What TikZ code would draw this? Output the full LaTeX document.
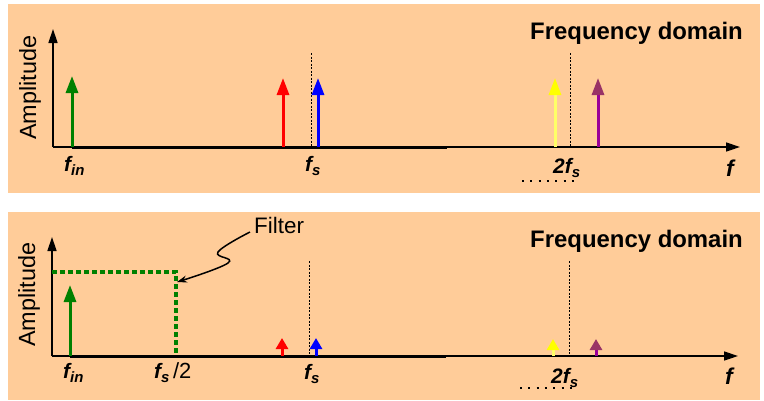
\documentclass[tikz,border=0pt]{standalone}
\usepackage{fontspec}
\setmainfont{Liberation Sans}
\usetikzlibrary{arrows.meta}
\definecolor{peach}{HTML}{FFCC99}
\definecolor{sgreen}{HTML}{008000}
\definecolor{sred}{HTML}{FF0000}
\definecolor{sblue}{HTML}{0000FF}
\definecolor{syellowh}{HTML}{FFFF00}
\definecolor{syellow}{HTML}{FFFF66}
\definecolor{spurpleh}{HTML}{993366}
\definecolor{spurple}{HTML}{990099}
\newcommand{\lbl}[2]{{\fontsize{21}{21}\selectfont\bfseries\itshape #1\raisebox{-4.5bp}{\fontsize{15}{15}\selectfont #2}}}
\tikzset{
  axis/.style={line width=1.5bp, -{Triangle[length=14bp,width=9bp]}},
  thickline/.style={line width=3bp},
  bigsig/.style={line width=3bp, -{Triangle[length=17bp,width=12bp,color=#1]}},
  smallsig/.style={line width=3bp, -{Triangle[length=11bp,width=12bp,color=#1]}},
  vguide/.style={line width=0.9bp, dash pattern=on 2bp off 1.5bp},
  filterline/.style={sgreen, line width=4bp, dash pattern=on 4.5bp off 3.5bp},
  title/.style={font=\fontsize{24}{24}\selectfont\bfseries, anchor=base east, inner sep=0},
  ylab/.style={font=\fontsize{23.5}{24}\selectfont, rotate=90, anchor=base west, inner sep=0},
  flab/.style={anchor=base west, inner sep=0},
  fbig/.style={anchor=base west, inner sep=0, font=\fontsize{23}{23}\selectfont\bfseries\itshape},
  dotrow/.style={line width=2bp, dash pattern=on 2bp off 6.3bp},
}
\begin{document}
\begin{tikzpicture}[x=1bp,y=-1bp]
\useasboundingbox (0,0) rectangle (764,400);
\fill[peach] (8,4) rectangle (760,193);
\fill[peach] (8,212) rectangle (760,400);

% ---------- panel 1 ----------
\coordinate (o1) at (53,147);
\coordinate (yt1) at (53,29);
\coordinate (xt1) at (740,147);
\draw[axis] (o1) -- (yt1);
\draw[axis] (o1) -- (xt1);
\draw[thickline] (72,147) -- (447,147);
\draw[vguide] (311,53) -- (311,147);
\draw[vguide] (570,53) -- (570,147);
\draw[sgreen, bigsig=sgreen] (72,147) -- (72,76);
\draw[sred, bigsig=sred] (283,147) -- (283,78);
\draw[sblue, bigsig=sblue] (318,147) -- (318,78);
\draw[syellow, bigsig=syellowh] (555,147) -- (555,78);
\draw[spurple, bigsig=spurpleh] (598,147) -- (598,78);
\node[title] (t1) at (743,39) {Frequency domain};
\node[ylab] (a1) at (36,140) {Amplitude};
\node[flab] (fin1) at (64,171) {\lbl{f}{in}};
\node[flab] (fs1) at (305,171) {\lbl{f}{s}};
\node[flab] (tfs1) at (553,173) {\lbl{2f}{s}};
\node[fbig] (f1) at (726,176) {f};
\draw[dotrow] (522,181) -- (575,181);

% ---------- panel 2 ----------
\coordinate (o2) at (52,356);
\coordinate (yt2) at (52,237);
\coordinate (xt2) at (738,356);
\draw[axis] (o2) -- (yt2);
\draw[axis] (o2) -- (xt2);
\draw[thickline] (70,356) -- (446,356);
\draw[filterline] (52,272) -- (176,272) -- (176,356);
\draw[vguide] (309,261) -- (309,356);
\draw[vguide] (569,261) -- (569,356);
\draw[sgreen, bigsig=sgreen] (70,356) -- (70,285);
\draw[sred, smallsig=sred] (282,356) -- (282,338);
\draw[sblue, smallsig=sblue] (316,356) -- (316,338);
\draw[syellow, smallsig=syellowh] (553,356) -- (553,339);
\draw[spurple, smallsig=spurpleh] (596,356) -- (596,339);
\node[title] (t2) at (743,247) {Frequency domain};
\node[ylab] (a2) at (35,347) {Amplitude};
\node[flab] (fin2) at (63,378) {\lbl{f}{in}};
\node[flab] (fs22) at (154,378) {\lbl{f}{s}{\fontsize{22}{22}\selectfont\,/2}};
\node[flab] (fs2) at (304,379) {\lbl{f}{s}};
\node[flab] (tfs2) at (551,383) {\lbl{2f}{s}};
\node[fbig] (f2) at (725,384) {f};
\draw[dotrow] (520,388) -- (573,388);
\node[flab, font=\fontsize{22.5}{24}\selectfont] (filt) at (254,233) {Filter};
\coordinate (ftip) at (177,282);
\draw[line width=1.5bp, -{Stealth[length=10bp,width=7bp]}] plot[smooth, tension=0.7] coordinates {(250,232) (218,252) (228,263) (ftip)};
\end{tikzpicture}
\end{document}
